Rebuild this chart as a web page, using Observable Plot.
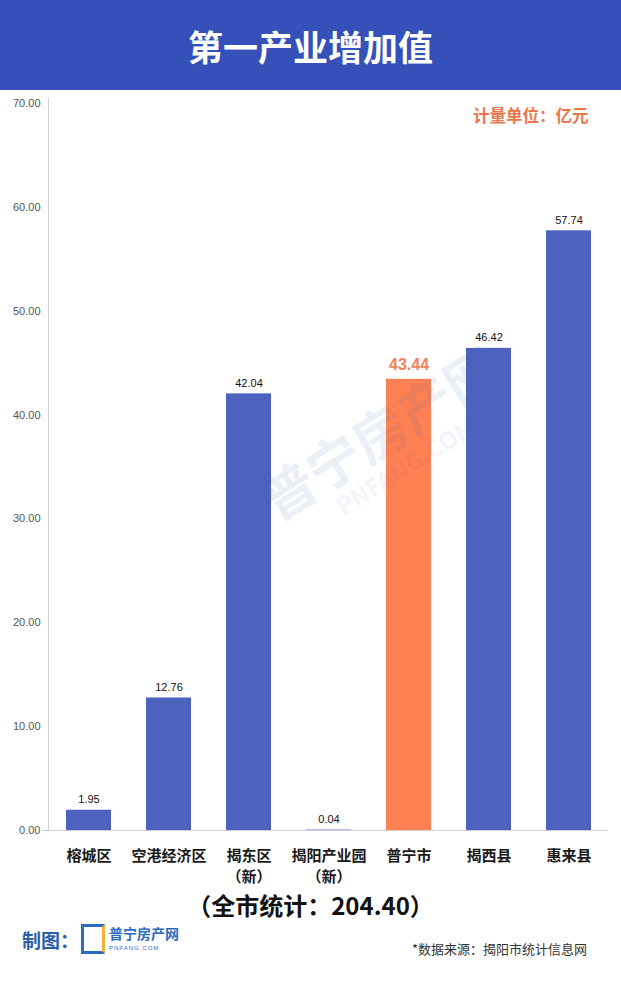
<!DOCTYPE html>
<html>
<head>
<meta charset="utf-8">
<script src="https://cdn.jsdelivr.net/npm/d3@7"></script>
<script src="https://cdn.jsdelivr.net/npm/@observablehq/plot@0.6"></script>
<style>
  html, body { margin: 0; padding: 0; background: #fff; }
  body { width: 621px; height: 983px; position: relative; overflow: hidden;
         font-family: "Liberation Sans", "Noto Sans CJK SC", sans-serif; }
  #header { height: 90px; background: #3551b9; color: #fff; display: flex; align-items: center;
            justify-content: center; font-family: "Noto Sans CJK SC", sans-serif; font-weight: 700;
            font-size: 35px; }
  #chart { position: relative; height: 800px; }
  #total { position: absolute; top: 891px; left: 0; width: 621px; text-align: center;
           font-family: "Noto Sans CJK SC", sans-serif; font-weight: 700; font-size: 24px; color: #111; line-height: 1.2; }
  #maker { position: absolute; top: 924px; left: 22px; display: flex; align-items: center;
           font-family: "Noto Sans CJK SC", sans-serif; }
  #maker .lbl { font-weight: 700; font-size: 19px; color: #2a5ea8; line-height: 1; }
  #maker .icon { width: 24px; height: 30px; border: 3px solid #2a6cc0; border-right-color: #f2b233;
                 margin-left: 2px; box-sizing: border-box; }
  #maker .name { margin-left: 4px; display: flex; flex-direction: column; gap: 4px; }
  #maker .name b { font-size: 14px; line-height: 15px; color: #2a6cc0; font-weight: 700; }
  #maker .name i { font-size: 6px; line-height: 7px; color: #2a6cc0; font-style: normal; letter-spacing: 1px;
                   font-family: "Liberation Sans", sans-serif; }
  #source { position: absolute; top: 941px; right: 34px; font-family: "Noto Sans CJK SC", sans-serif;
            font-size: 13px; color: #333; line-height: 1.2; }
  #wm { position: absolute; left: 250px; top: 480px; transform: rotate(-32deg); transform-origin: left top;
        font-family: "Noto Sans CJK SC", sans-serif; font-weight: 700; font-size: 54px; line-height: 1;
        color: rgba(60,100,170,0.10); white-space: nowrap; pointer-events: none; }
  #wm small { display: block; font-size: 24px; margin-left: 60px; margin-top: 4px; color: rgba(60,100,170,0.08); }
</style>
</head>
<body>
<div id="header">第一产业增加值</div>
<div id="chart"></div>
<div id="wm">普宁房产网<small>PNFANG.COM</small></div>
<div id="total">（全市统计：204.40）</div>
<div id="maker"><span class="lbl">制图：</span><span class="icon"></span><span class="name"><b>普宁房产网</b><i>PNFANG.COM</i></span></div>
<div id="source">*数据来源：揭阳市统计信息网</div>
<script>
const categories = ["榕城区", "空港经济区", "揭东区\n（新）", "揭阳产业园\n（新）", "普宁市", "揭西县", "惠来县"];
const values = [1.95, 12.76, 42.04, 0.04, 43.44, 46.42, 57.74];
const highlight = "普宁市";
const yTicks = [0, 10, 20, 30, 40, 50, 60, 70];
const unitLabel = "计量单位：亿元";

const data = categories.map((c, i) => ({cat: c, value: values[i], hi: c === highlight}));

const chart = Plot.plot({
  width: 621,
  height: 800,
  marginTop: 8,
  marginLeft: 48,
  marginRight: 13,
  marginBottom: 60,
  style: {fontFamily: '"Liberation Sans", "Noto Sans CJK SC", sans-serif', background: "transparent"},
  x: {domain: categories, paddingInner: 0.44, paddingOuter: 0.22, label: null},
  y: {domain: [0, 70.48], label: null},
  marks: [
    Plot.frame({anchor: "left", stroke: "#d0d0d0"}),
    Plot.barY(data, {x: "cat", y: "value", fill: d => d.hi ? "#ff8052" : "#4c62be"}),
    Plot.ruleY([0], {stroke: "#d0d0d0", insetLeft: -6}),
    Plot.text(data.filter(d => !d.hi), {x: "cat", y: "value", text: d => d.value.toFixed(2),
      lineAnchor: "bottom", dy: -7, fontSize: 11, fill: "#111"}),
    Plot.text(data.filter(d => d.hi), {x: "cat", y: "value", text: d => d.value.toFixed(2),
      lineAnchor: "bottom", dy: -9, fontSize: 16, fontWeight: "bold", fill: "#f0845a"}),
    Plot.axisY({ticks: yTicks, tickFormat: d => d.toFixed(2), tickSize: 0, tickPadding: 8,
      fontSize: 11, color: "#555", label: null}),
    Plot.axisX({tickSize: 0, tickPadding: 16, fontSize: 15, fontWeight: "bold", lineHeight: 1.4,
      color: "#1a1a1a", fontFamily: '"Noto Sans CJK SC", sans-serif', label: null}),
    Plot.text([unitLabel], {frameAnchor: "top-right", dx: -20, dy: 12, fontSize: 16.5, fontWeight: "bold",
      fill: "#e8764a", fontFamily: '"Noto Sans CJK SC", sans-serif'})
  ]
});
document.getElementById("chart").appendChild(chart);
</script>
</body>
</html>
